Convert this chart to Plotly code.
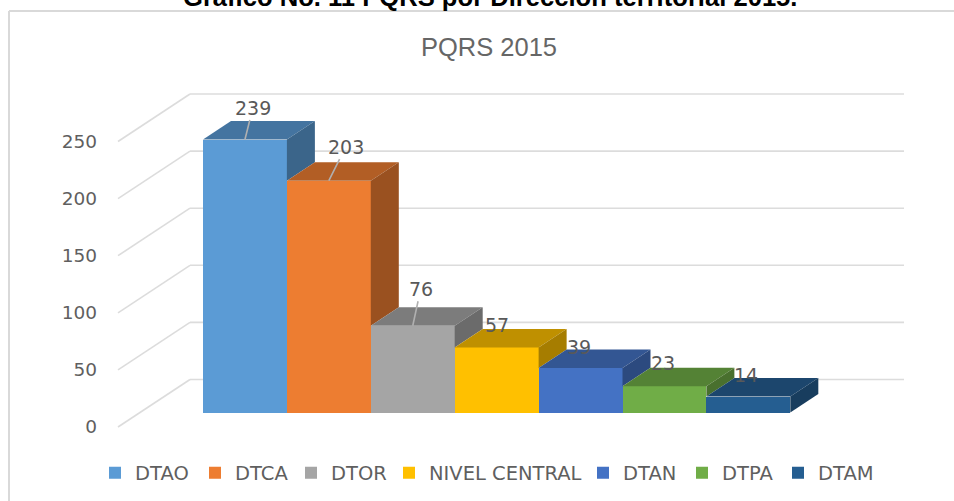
import plotly.graph_objects as go

categories = ["DTAO", "DTCA", "DTOR", "NIVEL CENTRAL", "DTAN", "DTPA", "DTAM"]
values = [239, 203, 76, 57, 39, 23, 14]
colors = ["#5B9BD5", "#ED7D31", "#A5A5A5", "#FFC000", "#4472C4", "#70AD47", "#255E91"]
ticks = [0, 50, 100, 150, 200, 250]

# page geometry (pixels)
W, H = 954, 501
L, R, T, B = 100, 920, 60, 495
BAR_W = 83.9          # px per category
BAR_X0 = 203.0        # px of category position 0
PX_PER_UNIT = 1.142   # px per value unit
BASE_Y = 412.5        # px of value 0 on the bars' front plane
AXIS_Y = 427.0        # px of value 0 on the labelled front edge
WALL_Y = 379.5        # px of value 0 on the back wall
FRONT_X, WALL_X, WALL_END = 118.0, 190.0, 904.0
DEPTH_X = 28.0 / BAR_W
DEPTH_Y = 18.5 / PX_PER_UNIT

cx = lambda px: (px - BAR_X0) / BAR_W
vy = lambda py: (BASE_Y - py) / PX_PER_UNIT
px_paper = lambda px: (px - L) / (R - L)
py_paper = lambda py: (B - py) / (B - T)


def shade(hex_color, k):
    rgb = [int(hex_color[i:i + 2], 16) for i in (1, 3, 5)]
    return "#%02x%02x%02x" % tuple(round(c * k) for c in rgb)


fig = go.Figure()

# front faces + legend entries
legend_text_x = [132, 232, 328, 426, 620, 719, 815]
for i, (name, v, c) in enumerate(zip(categories, values, colors)):
    fig.add_trace(go.Bar(
        x=[i + 0.5], y=[v], width=1, name=name, marker=dict(color=c, line=dict(width=0)),
        legend="legend" if i == 0 else f"legend{i + 1}", hoverinfo="name+y",
    ))

# top and side faces, built from the same values
for i, (v, c) in enumerate(zip(values, colors)):
    nxt = values[i + 1] if i + 1 < len(values) else 0
    fig.add_trace(go.Scatter(
        x=[i, i + 1, i + 1 + DEPTH_X, i + DEPTH_X, i],
        y=[v, v, v + DEPTH_Y, v + DEPTH_Y, v],
        mode="lines", fill="toself", fillcolor=shade(c, 0.75), line=dict(width=0),
        showlegend=False, hoverinfo="skip",
    ))
    fig.add_trace(go.Scatter(
        x=[i + 1, i + 1 + DEPTH_X, i + 1 + DEPTH_X, i + 1, i + 1],
        y=[v, v + DEPTH_Y, nxt + DEPTH_Y, nxt, v],
        mode="lines", fill="toself", fillcolor=shade(c, 0.65), line=dict(width=0),
        showlegend=False, hoverinfo="skip",
    ))

# carrier for the labelled value axis
fig.add_trace(go.Scatter(x=[0], y=[0], yaxis="y2", mode="markers", marker=dict(opacity=0),
                         showlegend=False, hoverinfo="skip"))

shapes = []
grid = dict(color="#dcdcdc", width=1.6)
for t in ticks:
    y_back = t + vy(WALL_Y)
    y_front = t + vy(AXIS_Y)
    shapes.append(dict(type="line", xref="x", yref="y", layer="below", line=grid,
                       x0=cx(FRONT_X), y0=y_front, x1=cx(WALL_X), y1=y_back))
    shapes.append(dict(type="line", xref="x", yref="y", layer="below", line=grid,
                       x0=cx(WALL_X), y0=y_back, x1=cx(WALL_END), y1=y_back))

# chart frame
frame = dict(color="#d9d9d9", width=2)
shapes.append(dict(type="line", xref="paper", yref="paper", layer="below", line=frame,
                   x0=px_paper(9), y0=py_paper(11), x1=px_paper(954), y1=py_paper(11)))
shapes.append(dict(type="line", xref="paper", yref="paper", layer="below", line=frame,
                   x0=px_paper(9), y0=py_paper(11), x1=px_paper(9), y1=py_paper(501)))

# data labels: (dx, dy) from the bar's front top centre, in px
label_off = [(8, -32), (17, -34), (8, -37), (0, -22), (-2, -21), (-1, -23), (-2, -22)]
leader = [True, True, True, False, False, False, False]
annotations = []
for i, v in enumerate(values):
    dx, dy = label_off[i]
    a = dict(x=i + 0.5, y=v, xref="x", yref="y", text=str(v),
             font=dict(family="DejaVu Sans", size=19, color="#595959"))
    if leader[i]:
        a.update(showarrow=True, ax=dx, ay=dy, arrowhead=0, arrowwidth=1.6, arrowcolor="#b0b0b0", standoff=0)
    else:
        a.update(showarrow=False, xshift=dx, yshift=-dy)
    annotations.append(a)

annotations.append(dict(
    text="<b>Gráfico No. 11 PQRS por Dirección territorial 2015.</b>",
    xref="paper", yref="paper", x=px_paper(490), y=py_paper(-3), yanchor="middle", xanchor="center",
    showarrow=False, font=dict(family="Liberation Sans", size=25.6, color="#000000"),
))

layout = dict(
    width=W, height=H, autosize=False,
    margin=dict(l=L, r=W - R, t=T, b=H - B, pad=0),
    paper_bgcolor="white", plot_bgcolor="rgba(0,0,0,0)",
    barmode="overlay", bargap=0,
    title=dict(text="PQRS 2015", x=489 / W, xanchor="center", y=1 - 47 / H, yanchor="middle",
               font=dict(family="Liberation Sans", size=25.5, color="#666666")),
    xaxis=dict(range=[cx(L), cx(R)], visible=False, fixedrange=True),
    yaxis=dict(range=[vy(B), vy(T)], visible=False, fixedrange=True),
    yaxis2=dict(range=[(AXIS_Y - B) / PX_PER_UNIT, (AXIS_Y - T) / PX_PER_UNIT], overlaying="y", side="left",
                tickmode="array", tickvals=ticks, ticktext=[str(t) for t in ticks], showgrid=False,
                zeroline=False, showline=False, ticks="", fixedrange=True, ticklabelstandoff=2,
                tickfont=dict(family="DejaVu Sans", size=18.5, color="#5f5f5f")),
    shapes=shapes, annotations=annotations, showlegend=True,
)
for i, tx in enumerate(legend_text_x):
    key = "legend" if i == 0 else f"legend{i + 1}"
    layout[key] = dict(x=px_paper(tx - 37), xanchor="left", y=py_paper(473), yanchor="middle",
                       bgcolor="rgba(0,0,0,0)", borderwidth=0,
                       font=dict(family="DejaVu Sans", size=19.5, color="#5f5f5f"))
fig.update_layout(**layout)

fig.write_html("out.html", config=dict(displayModeBar=False),
               post_script="document.body.style.margin='0';document.body.style.overflow='hidden';")
